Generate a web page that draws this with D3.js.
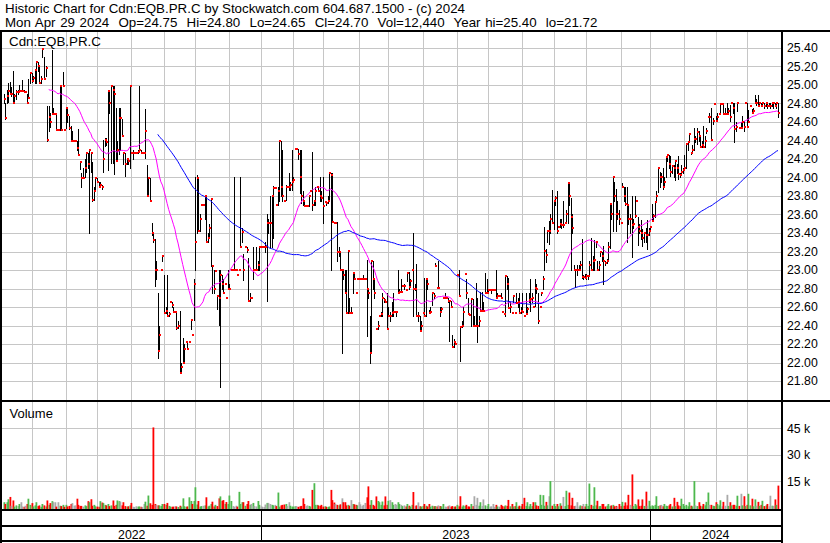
<!DOCTYPE html>
<html><head><meta charset="utf-8">
<script src="https://cdn.jsdelivr.net/npm/d3@7"></script>
<style>
body{margin:0;background:#fff}
svg{display:block;font-family:"Liberation Sans",Arial,sans-serif}
</style>
</head><body>
<svg id="chart" width="830" height="543"></svg>
<script>
// ---------------- DATA ----------------
const headerLines = [
  "Historic Chart for Cdn:EQB.PR.C by Stockwatch.com 604.687.1500 - (c) 2024",
  "Mon Apr 29 2024  Op=24.75  Hi=24.80  Lo=24.65  Cl=24.70  Vol=12,440  Year hi=25.40  lo=21.72"
];
const symbolLabel = "Cdn:EQB.PR.C";
const volumeLabel = "Volume";
const startDate = "2022-05-05";
const endDate = "2024-04-29";
const holidays = ["2022-05-23","2022-07-01","2022-08-01","2022-09-05","2022-10-10","2022-12-26","2022-12-27",
  "2023-01-02","2023-02-20","2023-04-07","2023-05-22","2023-07-03","2023-08-07","2023-09-04","2023-10-09",
  "2023-12-25","2023-12-26","2024-01-01","2024-02-19","2024-03-29"];
const priceTicks = [25.40,25.20,25.00,24.80,24.60,24.40,24.20,24.00,23.80,23.60,23.40,23.20,23.00,22.80,22.60,22.40,22.20,22.00,21.80];
const volumeTicks = [15000,30000,45000];
const volumeTickLabels = ["15 k","30 k","45 k"];
const maPeriods = [30,100];

const high = [
24.90,24.80,24.95,25.02,25.03,24.98,25.15,24.90,24.95,24.95,
25.00,24.95,25.05,24.95,24.92,24.90,25.06,25.13,25.13,25.10,
25.17,25.26,25.25,25.20,25.10,25.40,25.30,25.20,24.77,24.77,
24.70,25.38,24.75,24.69,24.69,24.51,25.00,24.99,25.14,24.51,
24.75,24.75,24.66,24.56,24.50,24.40,24.40,24.40,24.52,24.18,
24.05,24.10,24.20,24.27,24.26,24.30,24.28,24.17,23.90,23.99,
23.99,23.95,23.95,23.92,24.41,24.43,24.43,24.93,24.95,24.99,
24.99,24.99,24.75,24.40,24.75,24.75,24.63,24.27,24.26,24.20,
24.20,24.99,24.26,24.30,24.26,24.26,24.30,24.99,24.30,24.26,
24.26,24.74,24.14,23.99,23.99,23.51,23.40,23.33,23.10,22.75,
22.40,23.00,23.15,22.95,22.60,22.95,22.55,22.65,22.65,22.60,
22.55,22.56,22.45,22.56,22.00,22.27,22.20,22.22,22.22,22.22,
22.46,22.30,22.90,24.00,24.03,23.99,23.60,23.70,23.70,23.80,
23.80,23.40,23.50,23.77,23.04,23.00,22.99,22.72,23.00,23.00,
22.95,22.90,22.85,22.70,23.00,22.85,23.00,23.00,24.00,23.00,
22.95,23.00,24.00,23.45,23.17,23.25,23.25,23.13,22.75,22.70,
23.25,23.00,23.25,23.10,23.25,23.25,23.25,23.25,23.30,23.60,
23.55,23.80,23.80,23.91,23.89,23.70,23.90,24.39,24.39,24.30,
23.75,23.92,23.90,24.05,23.95,24.30,24.00,24.31,24.31,24.31,
24.30,24.30,23.85,23.75,23.69,23.69,23.80,23.85,24.28,23.75,
23.90,23.90,23.90,24.00,23.85,24.00,23.73,23.75,23.80,24.05,
24.05,24.05,23.52,23.52,23.52,23.25,23.20,23.00,23.00,23.00,
23.00,23.21,22.70,22.60,22.98,22.97,22.75,22.90,22.90,22.90,
22.90,22.95,22.90,23.11,22.80,22.50,23.10,23.10,22.90,22.36,
22.45,22.50,22.55,22.75,22.70,22.65,22.75,22.60,22.55,22.65,
22.75,22.55,22.55,23.00,22.80,22.90,22.83,22.85,22.78,22.98,
22.98,22.90,23.00,23.40,22.85,23.07,22.55,22.50,22.45,22.53,
22.91,22.91,22.90,22.57,22.60,22.75,22.75,23.08,22.81,23.10,
22.60,22.60,22.70,22.75,22.70,22.70,22.67,22.67,22.30,22.25,
22.20,22.95,23.00,22.38,22.45,22.60,22.96,22.90,22.70,22.52,
22.70,22.69,22.50,22.86,22.70,22.50,22.76,22.76,22.65,22.97,
22.90,22.80,22.78,22.80,22.78,22.78,23.00,22.75,22.72,22.75,
22.55,22.52,22.94,22.94,22.91,22.65,22.53,22.72,22.54,22.75,
22.70,22.75,22.60,22.75,22.50,22.75,22.60,22.75,22.90,22.75,
22.60,22.90,22.85,22.75,22.60,22.75,22.94,23.46,23.23,23.42,
23.53,23.60,23.87,23.75,23.80,23.85,23.47,23.55,23.55,23.75,
23.51,23.65,23.94,23.94,23.78,23.60,23.05,23.00,23.05,23.05,
23.10,23.34,22.95,22.96,22.96,22.95,23.10,23.35,23.15,23.32,
23.30,23.10,23.10,23.20,23.20,23.26,23.10,23.12,23.30,23.71,
23.71,24.00,23.95,23.88,23.75,23.65,23.51,23.94,23.90,23.90,
23.90,23.70,23.60,23.80,23.55,23.80,23.75,23.57,23.50,23.54,
23.44,23.40,23.45,23.54,23.45,23.48,23.71,23.60,23.75,23.85,
24.10,24.06,24.05,24.10,24.00,24.23,24.25,24.24,24.23,24.12,
24.14,24.18,24.15,24.23,24.05,24.14,24.10,24.24,24.36,24.40,
24.48,24.28,24.35,24.53,24.45,24.53,24.50,24.45,24.40,24.56,
24.45,24.53,24.65,24.70,24.75,24.64,24.79,24.66,24.70,24.69,
24.80,24.79,24.80,24.75,24.80,24.75,24.78,24.80,24.80,24.80,
24.60,24.80,24.53,24.60,24.67,24.61,24.80,24.80,24.73,24.77,
24.74,24.75,24.89,24.85,24.89,24.80,24.80,24.80,24.80,24.80,
24.80,24.80,24.80,24.80,24.80,24.80,24.80,24.80];

const low = [
24.80,24.63,24.80,24.82,24.90,24.88,24.80,24.82,24.85,24.90,
24.93,24.93,24.93,24.92,24.92,24.80,24.86,25.02,25.03,25.04,
25.02,25.02,25.15,25.02,25.02,25.30,25.06,25.10,24.40,24.50,
24.55,24.69,24.69,24.69,24.51,24.51,24.51,24.51,24.99,24.51,
24.54,24.60,24.52,24.40,24.40,24.40,24.40,24.30,24.24,24.09,
23.90,23.99,24.00,24.06,24.10,23.40,24.06,23.75,23.76,23.85,
23.95,23.90,23.90,23.88,24.06,24.34,24.35,24.08,24.70,24.16,
24.16,24.04,24.18,24.18,24.25,24.30,24.45,24.15,24.02,24.15,
24.15,24.10,24.26,24.20,24.26,24.26,24.26,24.29,24.26,24.26,
24.26,24.21,23.80,23.80,23.75,23.38,23.30,22.83,22.90,22.05,
22.12,23.00,23.10,22.54,22.54,22.50,22.50,22.65,22.60,22.55,
22.55,22.36,22.37,21.89,21.89,22.00,22.00,22.22,22.15,22.22,
22.36,22.30,22.46,23.00,23.40,23.42,23.42,23.70,23.70,23.55,
23.30,23.30,23.35,23.04,22.75,22.75,22.99,22.58,22.41,21.73,
22.80,22.75,22.85,22.70,22.79,22.79,23.00,23.00,23.00,23.00,
22.95,23.00,23.25,23.30,22.89,23.25,23.20,22.66,22.66,22.70,
22.90,23.00,23.00,23.00,23.00,23.25,23.25,23.25,23.20,22.66,
23.40,23.25,23.25,23.35,23.89,23.70,23.70,23.75,23.80,23.75,
23.75,23.76,23.90,23.87,23.87,23.87,23.95,24.31,24.31,24.20,
23.83,23.72,23.70,23.69,23.69,23.69,23.69,23.85,23.65,23.70,
23.70,23.90,23.85,23.75,23.75,23.51,23.73,23.70,23.72,23.75,
23.00,23.52,23.51,23.51,23.10,23.15,23.00,22.10,22.90,22.75,
22.53,22.53,22.54,22.54,22.75,22.90,22.75,22.90,22.90,22.90,
22.90,22.90,22.90,22.29,22.70,22.00,22.10,22.80,22.70,22.36,
22.36,22.50,22.50,22.50,22.65,22.65,22.36,22.50,22.45,22.50,
22.50,22.55,22.50,22.75,22.75,22.76,22.83,22.80,22.78,22.88,
22.80,22.82,23.00,22.50,22.78,22.50,22.45,22.34,22.34,22.53,
22.50,22.50,22.80,22.53,22.53,22.62,22.70,23.04,22.81,22.81,
22.50,22.55,22.70,22.70,22.70,22.65,22.23,22.60,22.17,22.17,
22.20,22.95,22.72,22.02,22.38,22.40,22.96,22.70,22.52,22.51,
22.40,22.40,22.40,22.40,22.22,22.40,22.56,22.56,22.56,22.75,
22.75,22.75,22.78,22.75,22.78,22.78,22.70,22.70,22.72,22.70,
22.55,22.52,22.50,22.80,22.59,22.55,22.53,22.65,22.54,22.64,
22.60,22.54,22.54,22.55,22.50,22.52,22.52,22.65,22.56,22.65,
22.60,22.61,22.75,22.43,22.60,22.73,22.80,23.00,23.09,23.30,
23.28,23.40,23.51,23.44,23.70,23.40,23.47,23.47,23.45,23.47,
23.51,23.51,23.51,23.70,23.00,23.40,23.00,22.82,22.95,23.00,
23.00,22.91,22.90,22.91,22.90,22.90,22.94,23.00,23.00,23.00,
23.25,23.00,23.00,23.15,23.10,22.85,23.05,23.08,23.10,23.24,
23.55,23.42,23.75,23.42,23.55,23.50,23.51,23.90,23.75,23.70,
23.30,23.50,23.40,23.14,23.45,23.57,23.75,23.27,23.40,23.34,
23.26,23.30,23.30,23.23,23.38,23.44,23.53,23.53,23.57,23.74,
23.84,23.90,23.95,23.88,23.90,24.00,24.18,24.10,24.02,24.05,
24.00,23.97,24.05,23.98,24.00,24.05,24.05,24.08,24.10,24.30,
24.40,24.25,24.26,24.30,24.38,24.36,24.40,24.33,24.33,24.33,
24.33,24.48,24.65,24.60,24.41,24.58,24.79,24.61,24.61,24.69,
24.69,24.79,24.69,24.69,24.69,24.69,24.61,24.80,24.70,24.38,
24.50,24.72,24.53,24.53,24.55,24.50,24.80,24.55,24.60,24.77,
24.70,24.70,24.80,24.78,24.77,24.77,24.77,24.77,24.75,24.77,
24.75,24.77,24.75,24.77,24.75,24.77,24.75,24.65];

const close = [
24.85,24.64,24.88,24.93,24.90,24.90,24.80,24.88,24.92,24.92,
24.93,24.93,24.93,24.92,24.92,24.80,24.86,25.13,25.04,25.08,
25.16,25.25,25.20,25.02,25.06,25.39,25.06,25.18,24.41,24.65,
24.60,24.69,24.69,24.69,24.51,24.51,24.99,24.51,24.99,24.51,
24.75,24.68,24.53,24.40,24.40,24.40,24.40,24.32,24.24,24.17,
23.99,23.99,24.10,24.26,24.15,24.30,24.26,23.76,23.85,23.99,
23.95,23.90,23.92,23.90,24.20,24.41,24.38,24.93,24.80,24.99,
24.95,24.90,24.18,24.30,24.64,24.64,24.45,24.26,24.15,24.20,
24.18,24.99,24.26,24.26,24.26,24.26,24.28,24.30,24.26,24.26,
24.26,24.50,23.80,23.99,23.75,23.40,23.32,23.00,23.00,22.12,
22.30,23.00,23.15,22.54,22.56,22.50,22.52,22.65,22.62,22.55,
22.55,22.37,22.40,21.89,21.95,22.00,22.15,22.22,22.15,22.22,
22.46,22.30,22.85,23.30,23.99,23.42,23.55,23.70,23.70,23.80,
23.30,23.35,23.45,23.77,23.04,22.80,22.99,22.72,22.70,22.95,
22.85,22.75,22.85,22.70,22.79,22.80,23.00,23.00,23.00,23.00,
22.95,23.00,23.25,23.41,23.00,23.25,23.22,22.66,22.70,22.70,
23.00,23.00,23.00,23.05,23.25,23.25,23.25,23.25,23.25,23.51,
23.51,23.51,23.80,23.89,23.89,23.70,23.85,24.39,23.90,23.80,
23.75,23.90,23.90,23.90,23.92,23.95,23.97,24.31,24.31,24.25,
24.00,23.80,23.75,23.69,23.69,23.69,23.80,23.85,23.70,23.75,
23.85,23.90,23.85,23.80,23.78,23.69,23.73,23.72,23.75,24.05,
24.03,23.52,23.51,23.51,23.19,23.20,23.00,23.00,22.95,22.75,
22.53,23.21,22.54,22.54,22.97,22.90,22.75,22.90,22.90,22.90,
22.90,22.90,22.90,22.80,22.75,22.10,23.10,22.90,22.75,22.36,
22.40,22.50,22.52,22.70,22.68,22.65,22.36,22.50,22.50,22.54,
22.55,22.55,22.55,22.75,22.76,22.76,22.83,22.83,22.78,22.97,
22.82,22.88,23.00,22.80,22.80,22.50,22.50,22.34,22.40,22.53,
22.50,22.90,22.85,22.53,22.55,22.75,22.72,23.04,22.81,22.81,
22.55,22.58,22.70,22.70,22.70,22.67,22.67,22.60,22.17,22.22,
22.20,22.95,22.72,22.38,22.40,22.55,22.96,22.75,22.52,22.51,
22.69,22.40,22.40,22.40,22.40,22.45,22.56,22.56,22.56,22.75,
22.75,22.78,22.78,22.78,22.78,22.78,22.70,22.72,22.72,22.70,
22.55,22.52,22.94,22.85,22.59,22.60,22.53,22.72,22.54,22.64,
22.65,22.54,22.56,22.55,22.50,22.52,22.58,22.68,22.69,22.70,
22.60,22.81,22.80,22.45,22.60,22.75,22.90,23.21,23.16,23.42,
23.42,23.55,23.51,23.75,23.78,23.42,23.47,23.50,23.49,23.49,
23.51,23.60,23.94,23.80,23.57,23.45,23.00,23.00,23.00,23.00,
23.05,22.92,22.92,22.91,22.93,22.94,23.05,23.00,23.10,23.11,
23.30,23.00,23.05,23.19,23.15,23.10,23.08,23.10,23.25,23.71,
23.60,24.00,23.80,23.61,23.61,23.55,23.51,23.90,23.80,23.71,
23.70,23.55,23.55,23.49,23.50,23.58,23.75,23.46,23.42,23.40,
23.35,23.40,23.38,23.38,23.42,23.46,23.53,23.58,23.74,23.80,
24.10,24.00,24.00,23.90,23.95,24.22,24.24,24.15,24.06,24.12,
24.10,24.18,24.10,24.04,24.03,24.06,24.08,24.10,24.36,24.38,
24.47,24.26,24.30,24.42,24.42,24.49,24.45,24.33,24.35,24.33,
24.40,24.50,24.65,24.65,24.41,24.61,24.79,24.61,24.65,24.69,
24.79,24.79,24.69,24.69,24.69,24.72,24.65,24.80,24.75,24.52,
24.55,24.80,24.53,24.53,24.60,24.55,24.80,24.55,24.60,24.77,
24.70,24.72,24.80,24.80,24.77,24.80,24.77,24.80,24.77,24.80,
24.77,24.77,24.77,24.80,24.80,24.77,24.80,24.70];

const volume = [
3000,2000,3000,4700,6000,1000,4000,500,1200,800,
2000,3000,600,400,1000,2000,5000,1500,2500,600,
1200,3000,800,1200,400,2000,1200,600,4000,1500,
2500,3600,3000,3000,500,3000,1000,800,1500,400,
1500,600,900,2000,2500,1000,1200,5000,1500,900,
900,500,1200,800,3600,3000,4700,1000,1500,700,
500,400,3600,2800,2500,1500,1200,2000,800,1200,
4000,900,1500,4000,3600,3300,1200,3000,800,500,
700,1200,2600,400,300,700,500,600,400,300,
2000,3300,1000,6800,2400,1500,45500,2000,1500,1200,
1200,800,2000,2000,1500,2600,900,500,400,500,
700,600,300,1000,500,5200,700,400,600,5800,
3700,2000,3700,11500,1700,3700,500,800,1000,1200,
5800,600,1000,2000,3300,600,1500,800,5200,6300,
3800,4200,2000,3100,2000,6800,3700,800,400,1000,
500,8900,2000,3000,3000,1000,2000,3700,1500,2000,
2600,800,600,3700,1500,600,400,300,1700,2600,
2600,2000,1500,1200,1500,800,8500,500,1200,1500,
1700,2000,800,3000,1000,500,500,700,800,400,
700,900,5200,2000,800,1200,900,500,10000,13800,
1500,1500,1200,900,1500,500,700,400,300,600,
10000,4200,2800,2000,1500,1200,1800,5200,3000,3000,
1200,1500,1000,4200,2000,1800,1500,1200,3000,1800,
800,1500,2600,5800,12000,1500,4200,1500,800,6300,
3700,3000,1500,3400,1200,6300,1500,3800,4200,3000,
1500,2000,1500,3000,2000,1500,800,1200,600,2000,
1000,500,1500,8800,800,1200,2900,700,500,900,
2000,1000,600,2000,500,1000,700,800,600,1200,
800,600,2000,500,400,700,1200,500,800,400,
600,1500,700,6400,500,1200,800,1500,600,500,
2000,800,6400,1500,5500,1000,3000,900,4600,1200,
800,2000,500,700,2000,400,1500,600,500,1500,
800,600,1200,900,4300,700,2000,600,800,3000,
500,1000,700,2000,5500,900,3000,700,2000,800,
3000,3000,1200,900,7200,1500,7000,1000,3200,1200,
6400,15000,1000,2000,800,2000,700,2400,1000,6000,
800,9500,1500,8500,1200,5500,800,1000,3000,600,
1200,800,2000,600,2000,900,13600,1500,800,11500,
1200,3800,700,900,2000,2000,600,1000,2000,800,
1200,1500,700,900,500,2000,800,3200,1000,2900,
1200,7200,1500,18800,800,2000,1200,4600,800,1000,
4600,900,9000,1000,3800,700,1200,800,1500,6400,
900,1200,1500,700,2000,1000,800,1200,2000,600,
5500,800,3200,1200,900,5000,2000,800,1500,700,
3000,1000,600,15000,1200,800,3000,1000,700,2000,
1200,3200,8500,1500,1500,1000,800,3000,2000,1200,
4100,700,3200,1000,7200,900,3000,1200,1500,1500,
1000,6700,900,7800,1200,6400,800,1500,7800,1200,
5000,700,4600,1000,3200,900,1500,3800,800,1200,
2000,700,6700,1000,900,4600,1500,12440];

// ---------------- CHART ----------------
const W = 830, H = 543;
const svg = d3.select("#chart");
const N = close.length;

const hol = new Set(holidays);
const fmt = d3.utcFormat("%Y-%m-%d");
const dates = d3.utcDays(new Date(startDate + "T00:00Z"), d3.utcDay.offset(new Date(endDate + "T00:00Z"), 1))
  .filter(d => d.getUTCDay() % 6 !== 0 && !hol.has(fmt(d))).slice(0, N);

const plotL = 2, plotR = 781;
const x = d3.scaleLinear().domain([0, N - 1]).range([3.5, 778]);
const yP = d3.scaleLinear().domain([21.8, 25.4]).range([381, 48]);
const yV = d3.scaleLinear().domain([0, 45000]).range([507.5, 428.3]);

const gridColor = "#c6c6c6";

svg.append("rect").attr("width", W).attr("height", H).attr("fill", "#fff");

// month boundaries
const monthStarts = [];
const yearStarts = [];
for (let i = 1; i < dates.length; i++) {
  if (dates[i].getUTCMonth() !== dates[i - 1].getUTCMonth()) monthStarts.push(i);
  if (dates[i].getUTCFullYear() !== dates[i - 1].getUTCFullYear()) yearStarts.push(i);
}
const px = i => Math.round(x(i)) + 0.5;

// clip paths
const defs = svg.append("defs");
defs.append("clipPath").attr("id", "clipP").append("rect")
  .attr("x", plotL).attr("y", 32).attr("width", plotR - plotL).attr("height", 368);
defs.append("clipPath").attr("id", "clipV").append("rect")
  .attr("x", plotL).attr("y", 402).attr("width", plotR - plotL).attr("height", 107);

// ---- price panel grid
const gP = svg.append("g").attr("clip-path", "url(#clipP)");
gP.selectAll("line.hg").data(priceTicks).join("line")
  .attr("x1", plotL).attr("x2", plotR)
  .attr("y1", d => Math.round(yP(d)) + 0.5).attr("y2", d => Math.round(yP(d)) + 0.5)
  .attr("stroke", gridColor).attr("stroke-width", 1);
gP.selectAll("line.vg").data(monthStarts).join("line")
  .attr("x1", d => px(d)).attr("x2", d => px(d))
  .attr("y1", 32).attr("y2", 400)
  .attr("stroke", gridColor).attr("stroke-width", 1);

// ---- HLC bars
const idx = d3.range(N);
gP.append("g").selectAll("line").data(idx.filter(i => high[i] > low[i])).join("line")
  .attr("x1", i => px(i)).attr("x2", i => px(i))
  .attr("y1", i => Math.round(yP(high[i]))).attr("y2", i => Math.round(yP(low[i])) + 1)
  .attr("stroke", "#000").attr("stroke-width", 1);

// ---- moving averages
function sma(p) {
  return idx.map(i => i < p - 1 ? null : d3.mean(close.slice(i - p + 1, i + 1)));
}
const maColors = ["#ff00ff", "#0000ff"];
maPeriods.forEach((p, k) => {
  const m = sma(p);
  gP.append("path")
    .datum(idx.filter(i => m[i] !== null))
    .attr("fill", "none").attr("stroke", maColors[k]).attr("stroke-width", 1)
    .attr("d", d3.line().x(i => x(i)).y(i => yP(m[i])));
});

// ---- close ticks
gP.append("g").selectAll("rect").data(idx).join("rect")
  .attr("x", i => Math.round(x(i))).attr("y", i => Math.round(yP(close[i])) - 1)
  .attr("width", 2).attr("height", 2).attr("fill", "#ff0000");

// ---- volume panel
const gV = svg.append("g").attr("clip-path", "url(#clipV)");
gV.selectAll("line.hg").data(volumeTicks).join("line")
  .attr("x1", plotL).attr("x2", plotR)
  .attr("y1", d => Math.round(yV(d)) + 0.5).attr("y2", d => Math.round(yV(d)) + 0.5)
  .attr("stroke", gridColor);
gV.selectAll("line.vg").data(monthStarts).join("line")
  .attr("x1", d => px(d)).attr("x2", d => px(d))
  .attr("y1", 402).attr("y2", 509)
  .attr("stroke", gridColor);
const volColor = i => i === 0 ? "#4db84d" : (close[i] > close[i - 1] ? "#4db84d" : (close[i] < close[i - 1] ? "#ff0000" : "#a9a9a9"));
gV.append("g").selectAll("rect").data(idx).join("rect")
  .attr("x", i => Math.round(x(i)) - 0.5).attr("width", 1.8)
  .attr("y", i => yV(volume[i])).attr("height", i => 509 - yV(volume[i]))
  .attr("fill", i => volColor(i));

// ---- frame lines
const black = (x0, y0, w, h) => svg.append("rect").attr("x", x0).attr("y", y0).attr("width", w).attr("height", h).attr("fill", "#000");
black(0, 30, W, 2);          // header rule
black(0, 30, 2, H - 30);     // left border
black(781, 30, 2, H - 30);   // right border of plot
black(0, 400, W, 2);         // price / volume separator
black(0, 509, 783, 2);       // volume bottom
black(0, 525, 783, 2);       // date band
black(0, 540, 783, 2);       // bottom
yearStarts.forEach(i => {
  svg.append("line").attr("x1", px(i)).attr("x2", px(i)).attr("y1", 511).attr("y2", 540)
    .attr("stroke", "#000").attr("stroke-width", 1);
});

// ---- axes (right side)
const axP = svg.append("g").attr("transform", "translate(783,0)")
  .call(d3.axisRight(yP).tickValues(priceTicks).tickFormat(d3.format(".2f")).tickSize(0).tickPadding(4));
axP.select(".domain").remove();
axP.selectAll("text").attr("font-size", 12.3).attr("fill", "#000").attr("font-family", "Liberation Sans, Arial, sans-serif");

const axV = svg.append("g").attr("transform", "translate(783,0)")
  .call(d3.axisRight(yV).tickValues(volumeTicks).tickFormat((d, k) => volumeTickLabels[k]).tickSize(0).tickPadding(4));
axV.select(".domain").remove();
axV.selectAll("text").attr("font-size", 12.3).attr("fill", "#000").attr("font-family", "Liberation Sans, Arial, sans-serif");

// ---- year labels
const bounds = [plotL, ...yearStarts.map(i => px(i)), plotR];
const years = [dates[0].getUTCFullYear(), ...yearStarts.map(i => dates[i].getUTCFullYear())];
svg.append("g").selectAll("text").data(years).join("text")
  .attr("x", (d, k) => (bounds[k] + bounds[k + 1]) / 2).attr("y", 538.5)
  .attr("text-anchor", "middle").attr("font-size", 12.3).attr("fill", "#000")
  .text(d => d);

// ---- texts
svg.append("g").selectAll("text").data(headerLines).join("text")
  .attr("x", 5).attr("y", (d, k) => 13 + k * 14)
  .attr("font-size", 13.33).attr("fill", "#000").style("white-space", "pre")
  .style("word-spacing", (d, k) => k === 1 ? "0.9px" : "0px")
  .text(d => d);
svg.append("text").attr("x", 9).attr("y", 45.5).attr("font-size", 13.33).attr("fill", "#000").text(symbolLabel);
svg.append("text").attr("x", 9.5).attr("y", 418).attr("font-size", 13).attr("fill", "#000").text(volumeLabel);
</script>
</body></html>
